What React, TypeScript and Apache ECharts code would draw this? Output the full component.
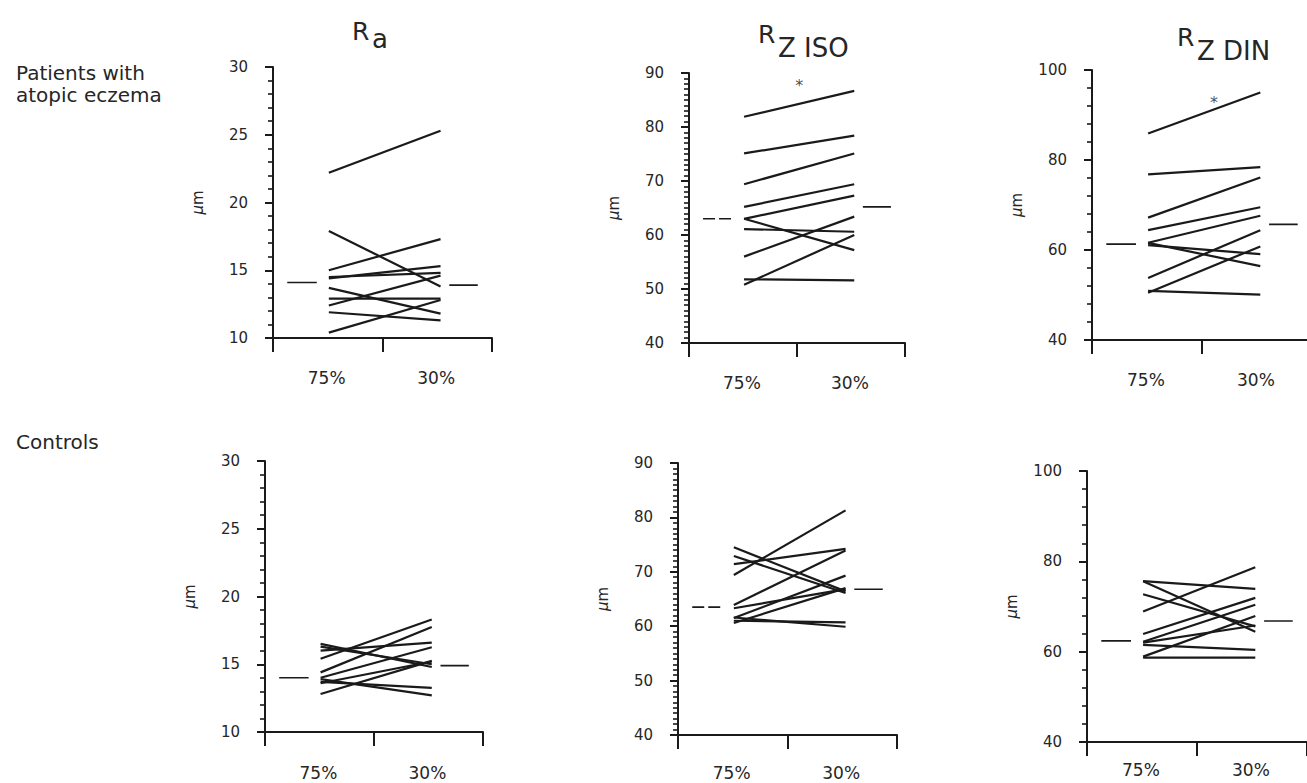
import React, { useEffect, useRef } from "react";
import * as echarts from "echarts";

// ---- data (µm) ----
const CONDITIONS = ["75%", "30%"];

// Patients with atopic eczema
const PAT_RA_75 = [22.2, 17.9, 15.0, 14.4, 14.5, 13.7, 12.9, 12.4, 11.9, 10.4];
const PAT_RA_30 = [25.3, 13.8, 17.3, 15.3, 14.8, 11.8, 12.9, 14.6, 11.3, 12.8];
const PAT_RA_MEAN = [14.1, 13.9];

const PAT_ISO_75 = [81.9, 75.1, 69.4, 65.2, 63.0, 63.0, 61.1, 56.0, 50.8, 51.8];
const PAT_ISO_30 = [86.7, 78.4, 75.1, 69.4, 67.3, 57.2, 60.6, 63.4, 60.0, 51.6];
const PAT_ISO_MEAN = [63.0, 65.2];

const PAT_DIN_75 = [85.9, 76.8, 67.2, 64.4, 61.6, 61.6, 61.1, 53.8, 50.5, 50.9];
const PAT_DIN_30 = [95.0, 78.4, 76.1, 69.5, 67.6, 56.4, 59.1, 64.4, 60.8, 50.1];
const PAT_DIN_MEAN = [61.3, 65.7];

// Controls
const CON_RA_75 = [16.5, 16.0, 15.4, 14.4, 14.0, 13.7, 13.9, 12.8, 16.3, 13.6];
const CON_RA_30 = [14.8, 16.6, 18.3, 17.75, 16.25, 13.25, 12.7, 15.25, 15.0, 15.2];
const CON_RA_MEAN = [14.0, 14.9];

const CON_ISO_75 = [69.4, 71.4, 74.5, 72.9, 63.9, 63.3, 61.5, 60.6, 61.0, 61.6];
const CON_ISO_30 = [81.3, 74.2, 66.4, 66.1, 73.9, 66.8, 69.3, 67.0, 60.7, 59.9];
const CON_ISO_MEAN = [63.5, 66.8];

const CON_DIN_75 = [75.6, 68.9, 75.6, 72.7, 63.9, 62.2, 62.0, 58.9, 61.5, 58.7];
const CON_DIN_30 = [73.9, 78.7, 64.4, 65.6, 71.9, 70.4, 65.8, 67.9, 60.4, 58.7];
const CON_DIN_MEAN = [62.4, 66.8];

// significance stars (value heights)
const STAR_ISO = 87.6;
const STAR_DIN = 92.8;

// ---- layout ----
const X75 = 0.255;
const X30 = 0.765;
const MEAN_L = [0.065, 0.2];
const MEAN_R = [0.805, 0.935];
const LABEL_POS = [0.245, 0.745];

const FONT = "DejaVu Sans, Verdana, sans-serif";
const INK = "#1a1a1a";
const TEXT = "#262626";

type Panel = {
  grid: { left: number; top: number; width: number; height: number };
  min: number;
  max: number;
  interval: number;
  minorSplit: number;
  labelMargin: number;
  v75: number[];
  v30: number[];
  mean: number[];
  dashedLeft: boolean;
  star?: { x: number; y: number };
};

const PANELS: Panel[] = [
  { grid: { left: 273, top: 67, width: 219, height: 271 }, min: 10, max: 30, interval: 5, minorSplit: 5, labelMargin: 31, v75: PAT_RA_75, v30: PAT_RA_30, mean: PAT_RA_MEAN, dashedLeft: false },
  { grid: { left: 689, top: 73, width: 216, height: 270 }, min: 40, max: 90, interval: 10, minorSplit: 10, labelMargin: 31, v75: PAT_ISO_75, v30: PAT_ISO_30, mean: PAT_ISO_MEAN, dashedLeft: true, star: { x: 0.51, y: STAR_ISO } },
  { grid: { left: 1092, top: 70, width: 220, height: 270 }, min: 40, max: 100, interval: 20, minorSplit: 5, labelMargin: 31, v75: PAT_DIN_75, v30: PAT_DIN_30, mean: PAT_DIN_MEAN, dashedLeft: false, star: { x: 0.555, y: STAR_DIN } },
  { grid: { left: 265, top: 461, width: 218, height: 271 }, min: 10, max: 30, interval: 5, minorSplit: 5, labelMargin: 32, v75: CON_RA_75, v30: CON_RA_30, mean: CON_RA_MEAN, dashedLeft: false },
  { grid: { left: 678, top: 463, width: 219, height: 272 }, min: 40, max: 90, interval: 10, minorSplit: 10, labelMargin: 29, v75: CON_ISO_75, v30: CON_ISO_30, mean: CON_ISO_MEAN, dashedLeft: true },
  { grid: { left: 1087, top: 471, width: 220, height: 271 }, min: 40, max: 100, interval: 20, minorSplit: 5, labelMargin: 19, v75: CON_DIN_75, v30: CON_DIN_30, mean: CON_DIN_MEAN, dashedLeft: false },
];

function txt(text: string, x: number, y: number, size: number) {
  return {
    type: "text",
    x,
    y,
    silent: true,
    style: {
      text,
      fill: TEXT,
      font: `${size}px ${FONT}`,
      fontSize: size,
      fontFamily: FONT,
      align: "left",
      verticalAlign: "middle",
      textAlign: "left",
      textVerticalAlign: "middle",
    },
  };
}

function buildOption() {
  const grids: any[] = [];
  const xAxes: any[] = [];
  const yAxes: any[] = [];
  const series: any[] = [];

  PANELS.forEach((p, i) => {
    grids.push({ ...p.grid, containLabel: false, outerBoundsMode: "none" });
    xAxes.push({
      type: "value",
      gridIndex: i,
      min: 0,
      max: 1,
      splitLine: { show: false },
      axisLine: { onZero: false, lineStyle: { color: INK, width: 2 } },
      axisTick: { customValues: [0, 0.5, 1], length: 14, lineStyle: { color: INK, width: 2 } },
      axisLabel: {
        customValues: LABEL_POS,
        formatter: (v: number) => (v < 0.5 ? CONDITIONS[0] : CONDITIONS[1]),
        margin: p.labelMargin,
        color: TEXT,
        fontSize: 17,
        fontFamily: FONT,
      },
    });
    yAxes.push({
      type: "value",
      gridIndex: i,
      min: p.min,
      max: p.max,
      interval: p.interval,
      name: "{i|μ}m",
      nameLocation: "middle",
      nameGap: 68,
      nameRotate: 90,
      nameTextStyle: {
        color: TEXT,
        fontSize: 15,
        fontFamily: FONT,
        rich: { i: { fontStyle: "italic", fontSize: 15, fontFamily: FONT, color: TEXT } },
      },
      splitLine: { show: false },
      axisLine: { show: true, lineStyle: { color: INK, width: 2 } },
      axisTick: { show: true, length: 8, lineStyle: { color: INK, width: 2 } },
      minorTick: { show: true, splitNumber: p.minorSplit, length: 5, lineStyle: { color: INK, width: 1.6 } },
      axisLabel: { margin: 25, color: TEXT, fontSize: 15, fontFamily: FONT },
    });

    p.v75.forEach((a, k) => {
      series.push({
        type: "line",
        xAxisIndex: i,
        yAxisIndex: i,
        data: [
          [X75, a],
          [X30, p.v30[k]],
        ],
        symbol: "none",
        silent: true,
        lineStyle: { color: INK, width: 2.2 },
      });
    });

    series.push({
      type: "line",
      xAxisIndex: i,
      yAxisIndex: i,
      data: [
        [MEAN_L[0], p.mean[0]],
        [MEAN_L[1], p.mean[0]],
      ],
      symbol: "none",
      silent: true,
      lineStyle: { color: INK, width: 1.6, type: p.dashedLeft ? [12, 4] : "solid" },
    });
    series.push({
      type: "line",
      xAxisIndex: i,
      yAxisIndex: i,
      data: [
        [MEAN_R[0], p.mean[1]],
        [MEAN_R[1], p.mean[1]],
      ],
      symbol: "none",
      silent: true,
      lineStyle: { color: INK, width: 1.6 },
    });

    if (p.star) {
      series.push({
        type: "scatter",
        xAxisIndex: i,
        yAxisIndex: i,
        data: [[p.star.x, p.star.y]],
        symbolSize: 1,
        silent: true,
        itemStyle: { color: "rgba(0,0,0,0)" },
        label: { show: true, position: "inside", formatter: "*", color: INK, fontSize: 16, fontFamily: FONT },
      });
    }
  });

  const graphic = [
    txt("Patients with", 16, 72.5, 20),
    txt("atopic eczema", 16, 95, 20),
    txt("Controls", 16, 442, 20),
    txt("R", 352, 31, 25),
    txt("a", 372, 39, 26),
    txt("R", 758, 34, 25),
    txt("Z ISO", 778, 47.6, 26),
    txt("R", 1177, 37, 25),
    txt("Z DIN", 1197, 51, 26),
  ];

  return {
    animation: false,
    backgroundColor: "#ffffff",
    grid: grids,
    xAxis: xAxes,
    yAxis: yAxes,
    series,
    graphic,
  };
}

export default function App() {
  const ref = useRef<HTMLDivElement>(null);
  useEffect(() => {
    if (!ref.current) return;
    const chart = echarts.init(ref.current, undefined, { renderer: "svg" });
    chart.setOption(buildOption() as any);
    return () => chart.dispose();
  }, []);
  return (
    <div
      ref={ref}
      style={{ position: "fixed", left: 0, top: 0, width: 1307, height: 783, background: "#fff" }}
    />
  );
}
